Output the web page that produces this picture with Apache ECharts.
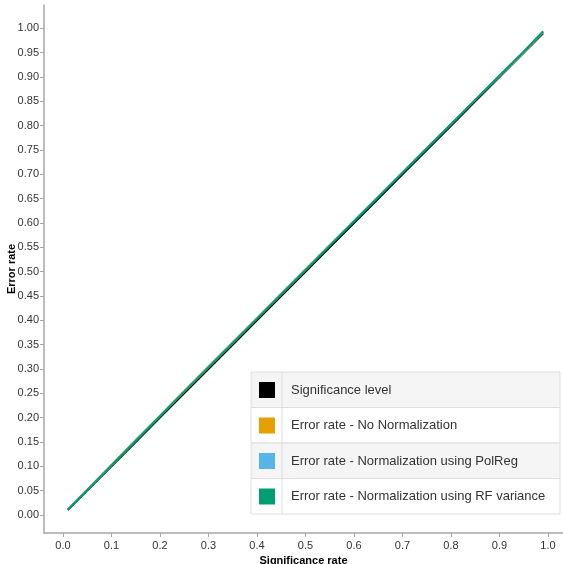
<!DOCTYPE html>
<html>
<head>
<meta charset="utf-8">
<script src="https://cdn.jsdelivr.net/npm/echarts@6/dist/echarts.min.js"></script>
<style>
html,body{margin:0;padding:0;background:#fff;}
#chart{width:563px;height:564px;}
</style>
</head>
<body>
<div id="chart"></div>
<script>
// significance levels (x) and the four curves
var sigRate = [0.01, 0.05, 0.1, 0.15, 0.2, 0.25, 0.3, 0.35, 0.4, 0.45, 0.5, 0.55, 0.6, 0.65, 0.7, 0.75, 0.8, 0.85, 0.9, 0.95, 0.99];
var sigLevel = [0.01, 0.05, 0.1, 0.15, 0.2, 0.25, 0.3, 0.35, 0.4, 0.45, 0.5, 0.55, 0.6, 0.65, 0.7, 0.75, 0.8, 0.85, 0.9, 0.95, 0.99];
var errNoNorm = [0.011, 0.052, 0.103, 0.154, 0.204, 0.255, 0.305, 0.355, 0.405, 0.455, 0.505, 0.555, 0.604, 0.654, 0.704, 0.754, 0.803, 0.853, 0.902, 0.951, 0.992];
var errPolReg = [0.011, 0.051, 0.102, 0.153, 0.203, 0.254, 0.304, 0.354, 0.404, 0.454, 0.504, 0.554, 0.604, 0.654, 0.704, 0.753, 0.803, 0.853, 0.902, 0.952, 0.993];
var errRF = [0.011, 0.051, 0.102, 0.152, 0.203, 0.253, 0.303, 0.353, 0.403, 0.453, 0.503, 0.553, 0.603, 0.653, 0.703, 0.753, 0.803, 0.853, 0.903, 0.952, 0.994];

var seriesNames = ['Significance level', 'Error rate - No Normalization', 'Error rate - Normalization using PolReg', 'Error rate - Normalization using RF variance'];
var seriesColors = ['#000000', '#E69F00', '#56B4E9', '#009E73'];
var seriesData = [sigLevel, errNoNorm, errPolReg, errRF];

var xTicks = [0, 0.1, 0.2, 0.3, 0.4, 0.5, 0.6, 0.7, 0.8, 0.9, 1.0];
var yTicks = [0, 0.05, 0.1, 0.15, 0.2, 0.25, 0.3, 0.35, 0.4, 0.45, 0.5, 0.55, 0.6, 0.65, 0.7, 0.75, 0.8, 0.85, 0.9, 0.95, 1.0];

function pairs(ys) {
    var out = [];
    for (var i = 0; i < sigRate.length; i++) {
        out.push([sigRate[i], ys[i]]);
    }
    return out;
}

var series = [];
for (var k = 0; k < seriesNames.length; k++) {
    series.push({
        name: seriesNames[k],
        type: 'line',
        data: pairs(seriesData[k]),
        showSymbol: false,
        symbol: 'none',
        smooth: false,
        lineStyle: { color: seriesColors[k], width: 2 },
        itemStyle: { color: seriesColors[k] },
        z: 2 + k
    });
}

// legend table background (rows + borders)
var legTop = 372, rowH = 35.5, legLeft = 251, legRight = 560, divX = 282;
var graphics = [];
for (var r = 0; r < 4; r++) {
    graphics.push({
        type: 'rect',
        shape: { x: legLeft, y: legTop + r * rowH, width: legRight - legLeft, height: rowH },
        style: { fill: (r % 2 == 0) ? '#f5f5f5' : '#ffffff', stroke: '#dedede', lineWidth: 1 },
        z: 5
    });
}
graphics.push({
    type: 'line',
    shape: { x1: divX, y1: legTop, x2: divX, y2: legTop + 4 * rowH },
    style: { stroke: '#dedede', lineWidth: 1 },
    z: 6
});

var myChart = echarts.init(document.getElementById('chart'));
var option = {
    animation: false,
    backgroundColor: '#ffffff',
    grid: { left: 44, right: 0, top: 5, bottom: 31, outerBoundsMode: 'none', containLabel: false },
    graphic: graphics,
    legend: {
        orient: 'vertical',
        left: 259,
        top: 382,
        padding: 0,
        itemWidth: 16,
        itemHeight: 16,
        itemGap: 19.5,
        icon: 'rect',
        z: 10,
        data: seriesNames,
        textStyle: {
            fontFamily: 'Liberation Sans, Arial, sans-serif',
            fontSize: 13,
            color: '#333333',
            lineHeight: 16,
            padding: [0, 0, 0, 11]
        }
    },
    xAxis: {
        type: 'value',
        min: -0.039,
        max: 1.031,
        name: 'Significance rate',
        nameLocation: 'middle',
        nameGap: 22,
        nameMoveOverlap: false,
        nameTextStyle: { fontFamily: 'Liberation Sans, Arial, sans-serif', fontSize: 11, fontWeight: 'bold', color: '#000' },
        splitLine: { show: false },
        axisLine: { show: true, onZero: false, lineStyle: { color: '#a6a6a6', width: 1.5 } },
        axisTick: { show: true, customValues: xTicks, length: 4, lineStyle: { color: '#a6a6a6' } },
        axisLabel: {
            customValues: xTicks,
            margin: 7,
            fontFamily: 'Liberation Sans, Arial, sans-serif',
            fontSize: 11,
            color: '#333333',
            formatter: function (v) { return v.toFixed(1); }
        }
    },
    yAxis: {
        type: 'value',
        min: -0.037,
        max: 1.048,
        name: 'Error rate',
        nameLocation: 'middle',
        nameGap: 27,
        nameMoveOverlap: false,
        nameTextStyle: { fontFamily: 'Liberation Sans, Arial, sans-serif', fontSize: 11, fontWeight: 'bold', color: '#000' },
        splitLine: { show: false },
        axisLine: { show: true, onZero: false, lineStyle: { color: '#a6a6a6', width: 1.5 } },
        axisTick: { show: true, customValues: yTicks, length: 4, lineStyle: { color: '#a6a6a6' } },
        axisLabel: {
            customValues: yTicks,
            margin: 5,
            fontFamily: 'Liberation Sans, Arial, sans-serif',
            fontSize: 11,
            color: '#333333',
            formatter: function (v) { return v.toFixed(2); }
        }
    },
    series: series
};
myChart.setOption(option);
</script>
</body>
</html>
